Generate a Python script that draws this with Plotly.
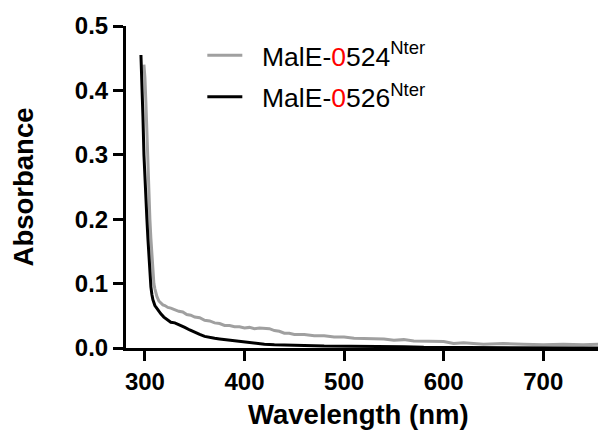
import plotly.graph_objects as go

# MalE-0524 (grey)
wl_0524 = [299, 300, 301, 302, 303, 304, 305, 306, 307, 308, 309, 310, 312, 314, 316, 318,
           320, 323, 326, 330, 334, 338, 342, 346, 350, 355, 360, 365, 370, 375, 380, 385,
           390, 395, 400, 405, 410, 415, 420, 425, 430, 435, 440, 445, 450, 460, 470, 480,
           490, 500, 510, 520, 530, 540, 550, 560, 570, 580, 590, 600, 610, 620, 640, 660,
           680, 700, 720, 740, 760, 770]
abs_0524 = [0.44, 0.42, 0.38, 0.33, 0.28, 0.24, 0.20, 0.17, 0.145, 0.12, 0.10, 0.092, 0.080, 0.073, 0.070, 0.067,
            0.066, 0.063, 0.062, 0.059, 0.057, 0.056, 0.052, 0.051, 0.048, 0.047, 0.043, 0.042, 0.039, 0.038, 0.035, 0.035,
            0.033, 0.033, 0.031, 0.032, 0.030, 0.031, 0.030, 0.030, 0.027, 0.026, 0.023, 0.023, 0.021, 0.021, 0.019, 0.019,
            0.017, 0.017, 0.015, 0.015, 0.014, 0.014, 0.012, 0.013, 0.011, 0.011, 0.010, 0.010, 0.007, 0.008, 0.006, 0.007,
            0.006, 0.005, 0.006, 0.005, 0.006, 0.005]

# MalE-0526 (black)
wl_0526 = [296, 297, 298, 299, 300, 301, 302, 303, 304, 305, 306, 307, 308, 310, 313, 316,
           319, 322, 326, 330, 335, 340, 345, 350, 355, 360, 365, 370, 375, 380, 385, 390,
           395, 400, 405, 410, 420, 430, 440, 450, 460, 480, 500, 520, 540, 560, 580, 600,
           620, 660, 700, 740, 770]
abs_0526 = [0.455, 0.42, 0.36, 0.30, 0.26, 0.23, 0.20, 0.17, 0.14, 0.11, 0.095, 0.083, 0.075, 0.066, 0.059, 0.053,
            0.048, 0.044, 0.040, 0.039, 0.036, 0.032, 0.028, 0.024, 0.021, 0.018, 0.016, 0.015, 0.014, 0.013, 0.012, 0.012,
            0.011, 0.010, 0.008, 0.007, 0.006, 0.005, 0.005, 0.004, 0.004, 0.003, 0.003, 0.002, 0.002, 0.002, 0.001, 0.001,
            0.0, 0.0, 0.0, 0.0, 0.0]

x_ticks = [300, 400, 500, 600, 700]
y_ticks = [0.0, 0.1, 0.2, 0.3, 0.4, 0.5]
y_tick_labels = ["0.0", "0.1", "0.2", "0.3", "0.4", "0.5"]

name_0524 = "&nbsp;&nbsp;MalE-<span style='color:#ff0000'>0</span>524<sup>Nter</sup>"
name_0526 = "&nbsp;&nbsp;MalE-<span style='color:#ff0000'>0</span>526<sup>Nter</sup>"

FONT = "Liberation Sans, Arial, sans-serif"

fig = go.Figure()
fig.add_trace(go.Scatter(x=wl_0524, y=abs_0524, mode="lines", name=name_0524,
                         line=dict(color="#a0a0a0", width=3), legendgroup="a"))
fig.add_trace(go.Scatter(x=wl_0526, y=abs_0526, mode="lines", name=name_0526,
                         line=dict(color="#000000", width=3), legendgroup="b"))

# page body has an 8px default margin: figure is sized to fit the window
fig.update_layout(
    template="none",
    width=598, height=422,
    margin=dict(l=118, r=0, t=18, b=82, pad=0),
    paper_bgcolor="white", plot_bgcolor="white",
    font=dict(family=FONT, color="black"),
    showlegend=True,
    legend=dict(x=0.159, y=0.983, xanchor="left", yanchor="top",
                font=dict(family=FONT, size=26.5, color="black"),
                bgcolor="rgba(0,0,0,0)", tracegroupgap=4, itemwidth=35),
    xaxis=dict(range=[281, 763], tickvals=x_ticks, ticks="outside", ticklen=10, tickwidth=3,
               tickcolor="black", showline=True, linewidth=3, linecolor="black",
               showgrid=False, zeroline=False, automargin=False,
               tickfont=dict(family=FONT, size=24, color="black", weight="bold"),
               title=dict(text="<b>Wavelength (nm)&nbsp;&nbsp;</b>", standoff=20,
                          font=dict(family=FONT, size=27.5, color="black"))),
    yaxis=dict(range=[0, 0.5], tickvals=y_ticks, ticktext=y_tick_labels, ticks="outside", ticklen=10,
               tickwidth=3, tickcolor="black", showline=True, linewidth=3, linecolor="black",
               showgrid=False, zeroline=False, automargin=False,
               tickfont=dict(family=FONT, size=24, color="black", weight="bold"),
               title=dict(text="<b>Absorbance</b>", standoff=34,
                          font=dict(family=FONT, size=27.5, color="black"))),
)

fig.write_html("out.html")
